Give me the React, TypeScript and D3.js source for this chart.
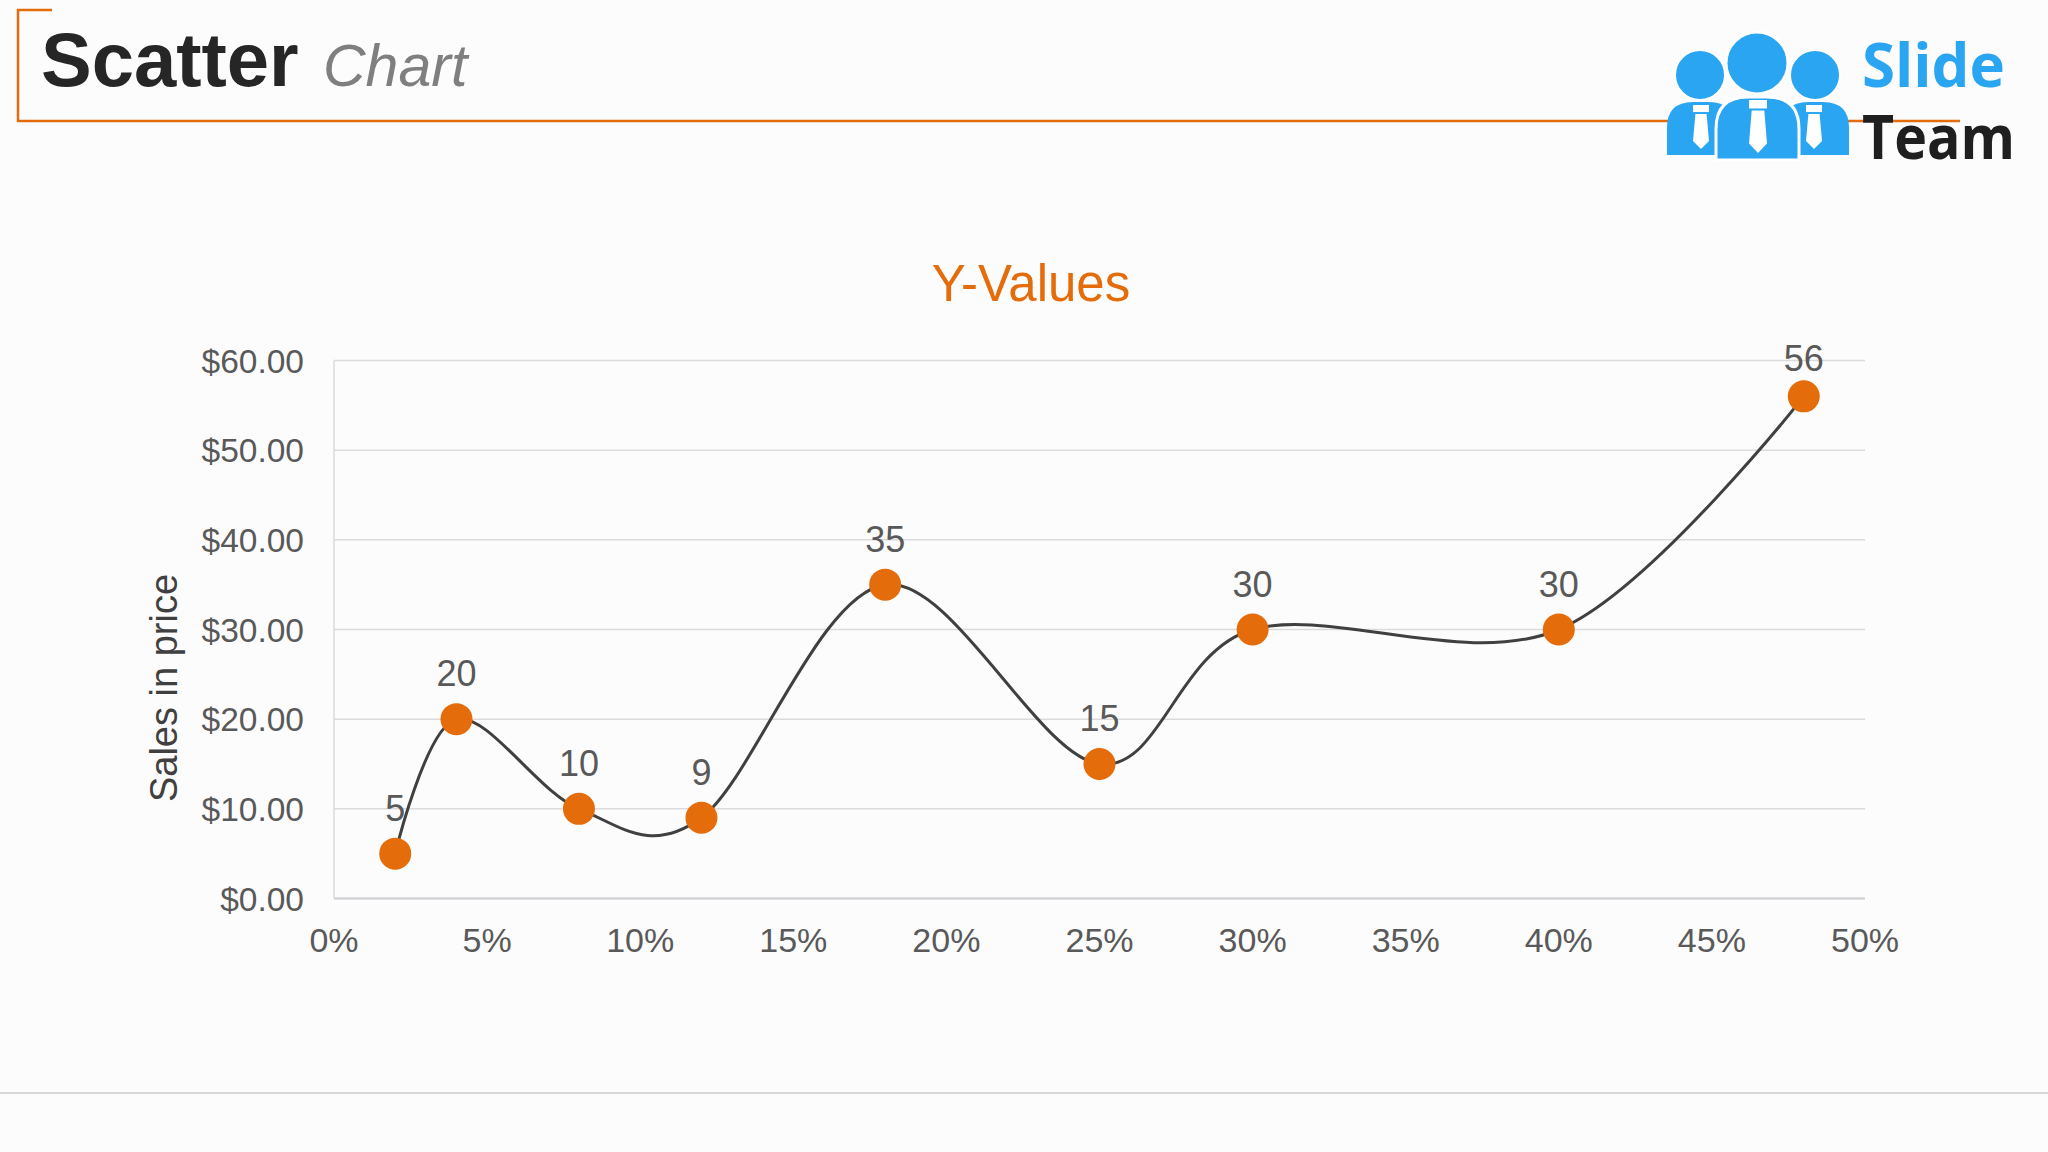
import React from "react";
import * as d3 from "d3";

const xValues = [0.02, 0.04, 0.08, 0.12, 0.18, 0.25, 0.3, 0.4, 0.48];
const yValues = [5, 20, 10, 9, 35, 15, 30, 30, 56];
const xTicks = [0, 0.05, 0.1, 0.15, 0.2, 0.25, 0.3, 0.35, 0.4, 0.45, 0.5];
const yTicks = [0, 10, 20, 30, 40, 50, 60];
const chartTitle = "Y-Values";
const yAxisTitle = "Sales in price";

const W = 2048;
const H = 1152;
const plot = { left: 334, right: 1865, top: 360.5, bottom: 898.5 };
const ORANGE = "#E46C0A";
const BLUE = "#2AA5F2";
const FONT = "'Liberation Sans', Arial, Helvetica, sans-serif";

function Logo() {
  const tie = (cx: number, top: number, h: number, w: number) => {
    const knotH = h * 0.16;
    return (
      <g fill="#ffffff">
        <rect x={cx - w / 2} y={top} width={w} height={knotH} />
        <path
          d={`M${cx - w * 0.35},${top + knotH + 2} L${cx + w * 0.35},${top + knotH + 2} L${cx + w * 0.5},${top + h * 0.82} L${cx},${top + h} L${cx - w * 0.5},${top + h * 0.82} Z`}
        />
      </g>
    );
  };
  const body = (x0: number, x1: number, top: number, bottom: number, r: number) =>
    `M${x0},${bottom} L${x0},${top + r} Q${x0},${top} ${x0 + r},${top} L${x1 - r},${top} Q${x1},${top} ${x1},${top + r} L${x1},${bottom} Z`;
  return (
    <g>
      <path d={body(1667, 1735, 102, 155, 26)} fill={BLUE} />
      <circle cx={1700} cy={75} r={25} fill={BLUE} stroke="#fff" strokeWidth={2} />
      {tie(1701, 105, 44, 16)}
      <path d={body(1782, 1849, 102, 155, 26)} fill={BLUE} />
      <circle cx={1815} cy={75} r={25} fill={BLUE} stroke="#fff" strokeWidth={2} />
      {tie(1814, 105, 44, 16)}
      <path d={body(1716, 1799, 97, 160, 32)} fill={BLUE} stroke="#ffffff" strokeWidth={3} />
      <circle cx={1757} cy={63} r={31} fill={BLUE} stroke="#fff" strokeWidth={3} />
      {tie(1758, 100, 53, 18)}
      <text x={1862} y={87} fontFamily="'Open Sans', 'Noto Sans', sans-serif" fontWeight={700} fontSize={61} fill={BLUE} textLength={143} lengthAdjust="spacingAndGlyphs">
        Slide
      </text>
      <text x={1862} y={159} fontFamily="'Open Sans', 'Noto Sans', sans-serif" fontWeight={700} fontSize={60} fill="#1f1f1f" textLength={153} lengthAdjust="spacingAndGlyphs">
        Team
      </text>
    </g>
  );
}

export default function App() {
  const x = d3.scaleLinear().domain([0, 0.5]).range([plot.left, plot.right]);
  const y = d3.scaleLinear().domain([0, 60]).range([plot.bottom, plot.top]);
  const pts: [number, number][] = xValues.map((v, i) => [x(v), y(yValues[i])]);
  const line = d3.line<[number, number]>().curve(d3.curveCardinal.tension(0))(pts) || "";
  const pctFmt = d3.format(".0%");
  const dollar = d3.format("$.2f");

  return (
    <svg width={W} height={H} style={{ position: "absolute", left: 0, top: 0, display: "block" }}>
      <rect x={0} y={0} width={W} height={H} fill="#fdfcfd" />
      <path d="M52,10 L18,10 L18,121 L1960,121" fill="none" stroke={ORANGE} strokeWidth={2.5} />
      <text x={41} y={86} fontFamily={FONT} fontWeight={700} fontSize={76} fill="#262626">
        Scatter
      </text>
      <text x={323} y={86} fontFamily={FONT} fontStyle="italic" fontSize={59} fill="#7f7f7f">
        Chart
      </text>
      <Logo />

      <text x={1031} y={301} textAnchor="middle" fontFamily={FONT} fontSize={51} fill={ORANGE}>
        {chartTitle}
      </text>

      {yTicks.map((t) => (
        <line key={"g" + t} x1={plot.left} x2={plot.right} y1={y(t)} y2={y(t)} stroke="#dcdadd" strokeWidth={1.5} />
      ))}
      <line x1={plot.left} x2={plot.left} y1={plot.top} y2={plot.bottom} stroke="#dcdadd" strokeWidth={1.5} />
      <line x1={plot.left} x2={plot.right} y1={plot.bottom} y2={plot.bottom} stroke="#d0ced2" strokeWidth={2} />

      {yTicks.map((t) => (
        <text key={"y" + t} x={304} y={y(t) + 12} textAnchor="end" fontFamily={FONT} fontSize={33.5} fill="#595959">
          {dollar(t)}
        </text>
      ))}
      {xTicks.map((t) => (
        <text key={"x" + t} x={x(t)} y={952} textAnchor="middle" fontFamily={FONT} fontSize={34} fill="#595959">
          {pctFmt(t)}
        </text>
      ))}

      <text
        transform={`translate(177,${688}) rotate(-90)`}
        textAnchor="middle"
        fontFamily={FONT}
        fontSize={38}
        fill="#404040"
      >
        {yAxisTitle}
      </text>

      <path d={line} fill="none" stroke="#404040" strokeWidth={3} />
      {pts.map(([px, py], i) => (
        <circle key={"m" + i} cx={px} cy={py} r={16} fill={ORANGE} />
      ))}
      {pts.map(([px, py], i) => (
        <text
          key={"l" + i}
          x={px}
          y={Math.max(py - 33, plot.top + 10)}
          textAnchor="middle"
          fontFamily={FONT}
          fontSize={36}
          fill="#595959"
        >
          {yValues[i]}
        </text>
      ))}

      <line x1={0} x2={W} y1={1093} y2={1093} stroke="#d9d6da" strokeWidth={2} />
    </svg>
  );
}
